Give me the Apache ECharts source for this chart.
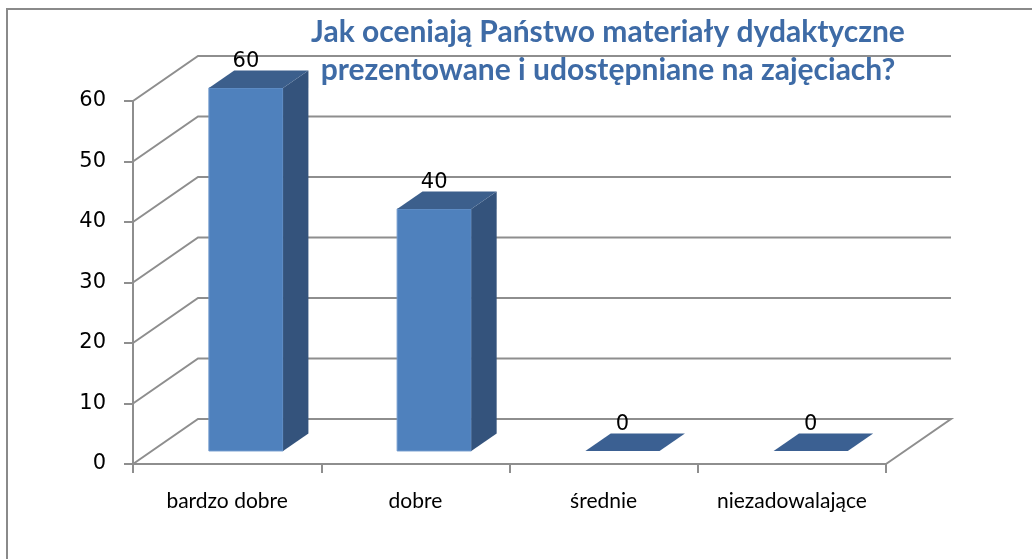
<!DOCTYPE html>
<html lang="pl">
<head>
<meta charset="UTF-8">
<title>Materiały dydaktyczne</title>
<script src="https://cdn.jsdelivr.net/npm/echarts@6/dist/echarts.min.js"></script>
<style>
  html, body { margin: 0; padding: 0; background: #fff; }
  #chart { width: 1032px; height: 559px; }
</style>
</head>
<body>
<div id="chart"></div>
<script>
// dane wykresu
var categories = ['bardzo dobre', 'dobre', 'średnie', 'niezadowalające'];
var values = [60, 40, 0, 0];
var yTicks = [0, 10, 20, 30, 40, 50, 60];
var titleLines = ['Jak oceniają Państwo materiały dydaktyczne', 'prezentowane i udostępniane na zajęciach?'];

// głębokość "3D" (przesunięcie tylnej ściany)
var DX = 65, DY = -45;
var F1 = 0.29, F2 = 0.68;   // przód i tył słupka w głębi
var gridColor = '#8e8e8e';

var chart = echarts.init(document.getElementById('chart'));

// ściana boczna, tylna i podłoga
function renderWalls(params, api) {
    var v = api.value(1);
    var p = api.coord([0, v]);
    var cs = params.coordSys;
    var x0 = cs.x, x1 = cs.x + cs.width, y = p[1];
    var pts = [[x0, y], [x0 + DX, y + DY], [x1 + DX, y + DY]];
    if (v === 0) pts.push([x1, y]);
    return {
        type: 'polyline',
        shape: { points: pts },
        style: { stroke: gridColor, lineWidth: 2, fill: null }
    };
}

// słupki 3D
function renderBar(params, api) {
    var i = api.value(0), v = api.value(1);
    var base = api.coord([i, 0]);
    var top = api.coord([i, v]);
    var bw = api.size([1, 0])[0];
    var w = bw * 0.394;
    var fl = base[0] + F1 * DX - w / 2;
    var fr = fl + w;
    var ft = top[1] + F1 * DY;
    var fb = base[1] + F1 * DY;
    var bx = (F2 - F1) * DX, by = (F2 - F1) * DY;
    var children = [];
    if (fb - ft > 0.5) {
        children.push({
            type: 'rect',
            shape: { x: fl, y: ft, width: w, height: fb - ft },
            style: { fill: '#4f81bd', stroke: '#6f98cc', lineWidth: 1 }
        });
        children.push({
            type: 'polygon',
            shape: { points: [[fr, ft], [fr + bx, ft + by], [fr + bx, fb + by], [fr, fb]] },
            style: { fill: '#34537c' }
        });
    }
    children.push({
        type: 'polygon',
        shape: { points: [[fl, ft], [fr, ft], [fr + bx, ft + by], [fl + bx, ft + by]] },
        style: { fill: v === 0 ? '#3b6092' : '#3c5f8c' }
    });
    children.push({
        type: 'text',
        style: {
            x: fl + w / 2, y: ft + by - 9,
            text: String(v),
            align: 'center', verticalAlign: 'middle',
            font: '21px "DejaVu Sans"', fill: '#000'
        },
        z2: 10
    });
    return { type: 'group', children: children };
}

var option = {
    animation: false,
    backgroundColor: '#fff',
    graphic: [
        {
            type: 'rect',
            shape: { x: 7, y: 9, width: 1100, height: 600 },
            style: { fill: null, stroke: '#8a8a8a', lineWidth: 2 },
            z: 0
        },
        {
            type: 'text',
            x: 608, y: 13,
            style: {
                text: titleLines.join('\n'),
                align: 'center',
                font: 'bold 30px Lato',
                lineHeight: 38,
                fill: '#3e6ba6'
            },
            z: 100
        }
    ],
    grid: { left: 133, right: 146, top: 101, bottom: 95 },
    xAxis: {
        type: 'category',
        data: categories,
        axisLine: { lineStyle: { color: gridColor, width: 2 } },
        axisTick: { show: true, interval: 0, length: 9, lineStyle: { color: gridColor, width: 2 } },
        axisLabel: { interval: 0, margin: 27, color: '#000', fontFamily: 'Lato', fontSize: 21 },
        splitLine: { show: false }
    },
    yAxis: {
        type: 'value',
        min: 0, max: 60, interval: 10,
        axisLine: { show: true, lineStyle: { color: gridColor, width: 2 } },
        axisTick: { show: true, length: 9, lineStyle: { color: gridColor, width: 2 } },
        axisLabel: { margin: 27, color: '#000', fontFamily: 'DejaVu Sans', fontSize: 21 },
        splitLine: { show: false }
    },
    series: [
        {
            type: 'custom',
            renderItem: renderWalls,
            data: yTicks.map(function (v) { return [0, v]; }),
            z: 1,
            silent: true
        },
        {
            type: 'custom',
            renderItem: renderBar,
            data: values.map(function (v, i) { return [i, v]; }),
            z: 3
        }
    ]
};
chart.setOption(option);
</script>
</body>
</html>
